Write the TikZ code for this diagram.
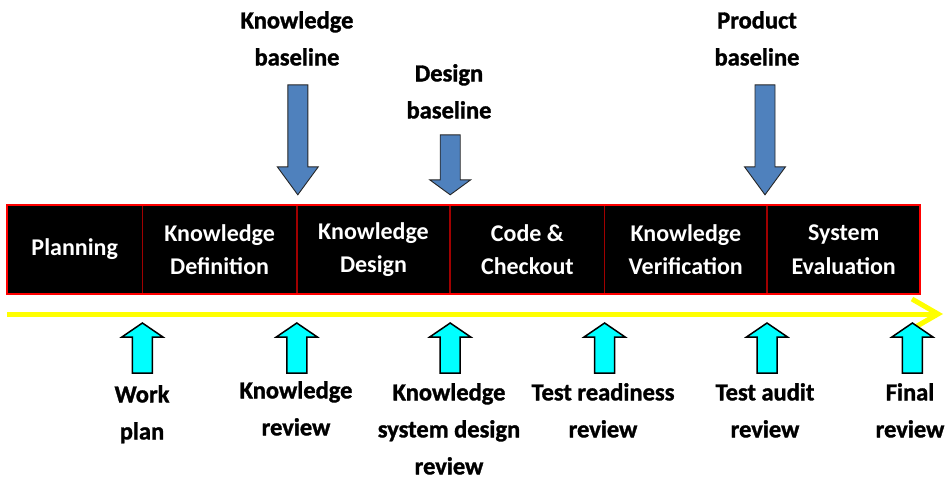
\documentclass[tikz,border=0pt]{standalone}
\usepackage{fontspec}
\setmainfont{Carlito}
\newfontfamily\heavyfont{Carlito}[BoldFeatures={FakeBold=1.3}]
\usetikzlibrary{arrows.meta}
\definecolor{arrowblue}{HTML}{4F81BD}
\definecolor{timeline}{HTML}{FFFF00}
\definecolor{borderred}{HTML}{FF0000}
\definecolor{divred}{HTML}{A00000}
\definecolor{aqua}{HTML}{00FFFF}
\tikzset{
  arrlen/.store in=\arrlen, arrhead/.store in=\arrhead,
  arrlen=110, arrhead=28,
  downarrow/.pic={\draw[bluearrow] (-10,-\arrlen) -- (10,-\arrlen) -- (10,-\arrhead) -- (20.5,-\arrhead) -- (0,0) -- (-20.5,-\arrhead) -- (-10,-\arrhead) -- cycle;},
  uparrow/.pic={\draw[cyanarrow] (0,0) -- (20.5,14) -- (10,14) -- (10,50) -- (-10,50) -- (-10,14) -- (-20.5,14) -- cycle;}
}
\begin{document}
\begin{tikzpicture}[x=1pt,y=-1pt,
  seg/.style={fill=black, text=white, inner sep=0pt, minimum height=89pt, anchor=west, align=center, font=\bfseries\fontsize{24}{33.5}\selectfont},
  lbl/.style={text=black, inner sep=0pt, align=center, anchor=north, font=\heavyfont\bfseries\fontsize{24.5}{37}\selectfont},
  bluearrow/.style={fill=arrowblue, draw=black!85, line width=0.9pt},
  cyanarrow/.style={fill=aqua, draw=black, line width=1.5pt},
  divider/.style={divred, line width=1.5pt},
  border/.style={borderred, line width=2pt},
  tline/.style={timeline, line width=5pt, -{Straight Barb[length=26pt,width=30pt]}}
]
\useasboundingbox (0,0) rectangle (946,479);

% phase bar
\node[seg, minimum width=135pt] (s1) at (7,249.5) {Planning};
\node[seg, minimum width=154pt] (s2) at (s1.east) {Knowledge\\Definition};
\node[seg, minimum width=153pt] (s3) at (s2.east) {Knowledge\\Design};
\node[seg, minimum width=154pt] (s4) at (s3.east) {Code \&\\Checkout};
\node[seg, minimum width=162pt] (s5) at (s4.east) {Knowledge\\Verification};
\node[seg, minimum width=153pt] (s6) at (s5.east) {System\\Evaluation};
\foreach \n in {s1,s2,s3,s4,s5} \draw[divider] (\n.north east) -- (\n.south east);
\draw[border] (s1.north west) rectangle (s6.south east);

% timeline
\coordinate (tl0) at (7,314);
\coordinate (tl1) at (943,314);
\draw[tline] (tl0) -- (tl1);

% baselines
\node[lbl] (kb) at (297,11) {Knowledge\\baseline};
\node[lbl] (db) at (449,64) {Design\\baseline};
\node[lbl] (pb) at (757,11) {Product\\baseline};
\pic[arrlen=110, arrhead=28] at ([xshift=1pt,yshift=10pt]s2.north east) {downarrow};
\pic[arrlen=60, arrhead=15] at ([yshift=10pt]s3.north east) {downarrow};
\pic[arrlen=110, arrhead=28] at ([xshift=-2pt,yshift=10pt]s5.north east) {downarrow};

% reviews
\coordinate (rv) at (0,323);
\foreach \n in {s1,s2,s3,s4,s5} \pic at (\n.south east |- rv) {uparrow};
\pic at ([xshift=-8pt]s6.south east |- rv) {uparrow};

\node[lbl] (r1) at (142,385) {Work\\plan};
\node[lbl] (r2) at (296,381) {Knowledge\\review};
\node[lbl] (r3) at (449,383) {Knowledge\\system design\\review};
\node[lbl] (r4) at (603,383) {Test readiness\\review};
\node[lbl] (r5) at (765,383) {Test audit\\review};
\node[lbl] (r6) at (910,383) {Final\\review};
\end{tikzpicture}
\end{document}
